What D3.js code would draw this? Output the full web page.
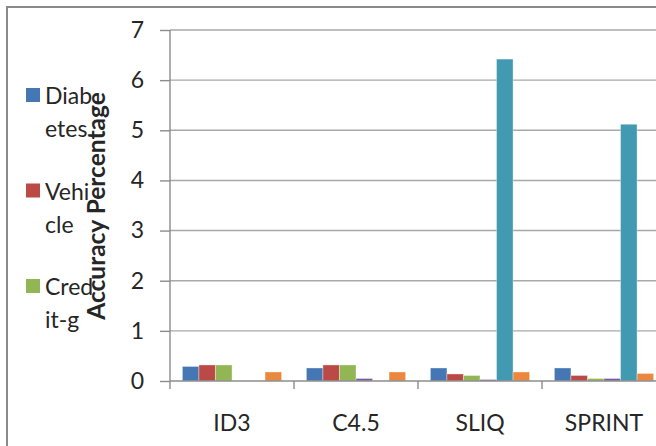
<!DOCTYPE html>
<html>
<head>
<meta charset="utf-8">
<script src="https://cdn.jsdelivr.net/npm/d3@7"></script>
<style>
  html, body { margin: 0; padding: 0; background: #fff; }
  svg { display: block; }
  text { font-family: Lato, "Liberation Sans", Arial, sans-serif; fill: #262626; }
</style>
</head>
<body>
<svg id="chart" width="656" height="446"></svg>
<script>
// Classifier accuracy comparison (clustered columns)
const categories = ["ID3", "C4.5", "SLIQ", "SPRINT"];
const legendNames = ["Diabetes", "Vehicle", "Credit-g"];
const yTicks = [0, 1, 2, 3, 4, 5, 6, 7];

// one array per series, values per category
const series1 = [0.29, 0.26, 0.26, 0.26];
const series2 = [0.32, 0.32, 0.14, 0.11];
const series3 = [0.32, 0.32, 0.11, 0.05];
const series4 = [null, 0.05, 0.03, 0.05];
const series5 = [null, null, 6.42, 5.12];
const series6 = [0.18, 0.18, 0.18, 0.15];
const seriesValues = [series1, series2, series3, series4, series5, series6];
const colors = ["#4677B5", "#BB4A47", "#93B655", "#7A5C9E", "#4299B2", "#EB883F"];

const FONT = 'Lato, "Liberation Sans", Arial, sans-serif';
const svg = d3.select("#chart");

// outer frame (only top and left edges fall inside the view)
svg.append("path")
  .attr("d", "M7,446 V7 H656")
  .attr("fill", "none")
  .attr("stroke", "#8a8a8a")
  .attr("stroke-width", 2);

const plotLeft = 170, plotTop = 30, plotBottom = 381, bandW = 124;

const x = d3.scaleBand()
  .domain(categories)
  .range([plotLeft, plotLeft + bandW * categories.length])
  .paddingInner(0).paddingOuter(0);

const xs = d3.scaleBand()
  .domain(d3.range(seriesValues.length))
  .range([0, x.bandwidth()])
  .paddingInner(0).paddingOuter(0.75);

const y = d3.scaleLinear().domain([0, 7]).range([plotBottom, plotTop]);

// horizontal gridlines
svg.append("g")
  .selectAll("line")
  .data(yTicks.filter(d => d > 0))
  .join("line")
  .attr("x1", plotLeft).attr("x2", 656)
  .attr("y1", d => y(d)).attr("y2", d => y(d))
  .attr("stroke", "#a8a8a8")
  .attr("stroke-width", 1.4);

// y axis
const yAxis = svg.append("g")
  .attr("transform", `translate(${plotLeft},0)`)
  .call(d3.axisLeft(y).tickValues(yTicks).tickFormat(d3.format("d"))
    .tickSize(10).tickPadding(16).tickSizeOuter(0));
yAxis.select(".domain").remove();
yAxis.selectAll(".tick line").attr("stroke", "#8c8c8c").attr("stroke-width", 1.4);
yAxis.selectAll(".tick text")
  .attr("font-size", 23)
  .style("font-family", FONT)
  .attr("fill", "#262626");
yAxis.append("line")
  .attr("x1", 0).attr("x2", 0)
  .attr("y1", plotTop).attr("y2", plotBottom + 8)
  .attr("stroke", "#8c8c8c").attr("stroke-width", 1.4);

// bars
const groups = svg.append("g")
  .selectAll("g")
  .data(seriesValues)
  .join("g")
  .attr("fill", (d, i) => colors[i]);

groups.selectAll("rect")
  .data((vals, si) => vals.map((v, ci) => ({ v, si, ci })).filter(d => d.v != null))
  .join("rect")
  .attr("x", d => x(categories[d.ci]) + xs(d.si))
  .attr("width", xs.bandwidth())
  .attr("y", d => y(d.v))
  .attr("height", d => y(0) - y(d.v))
  .attr("stroke", "rgba(255,255,255,0.35)")
  .attr("stroke-width", 1);

// x axis
const xAxis = svg.append("g")
  .attr("transform", `translate(0,${plotBottom})`);
xAxis.append("line")
  .attr("x1", plotLeft).attr("x2", 656)
  .attr("y1", 0).attr("y2", 0)
  .attr("stroke", "#8c8c8c").attr("stroke-width", 1.4);
xAxis.selectAll("line.cat")
  .data(categories.slice(1))
  .join("line")
  .attr("class", "cat")
  .attr("x1", d => x(d)).attr("x2", d => x(d))
  .attr("y1", 0).attr("y2", 8)
  .attr("stroke", "#8c8c8c").attr("stroke-width", 1.4);
xAxis.selectAll("text")
  .data(categories)
  .join("text")
  .attr("x", d => x(d) + x.bandwidth() / 2)
  .attr("y", 50)
  .attr("text-anchor", "middle")
  .attr("font-size", 23)
  .text(d => d);

// legend (labels wrap every four characters)
const legend = svg.append("g");
legendNames.forEach((name, i) => {
  const top = 88 + i * 95.5;
  legend.append("rect")
    .attr("x", 26).attr("y", top)
    .attr("width", 14).attr("height", 14)
    .attr("fill", colors[i]);
  const lines = name.match(/.{1,4}/g);
  lines.forEach((ln, j) => {
    legend.append("text")
      .attr("x", 45).attr("y", top + 16 + j * 33)
      .attr("font-size", 23)
      .attr("fill", "#333")
      .text(ln);
  });
});

// y axis title
svg.append("text")
  .attr("transform", "translate(105,206) rotate(-90)")
  .attr("text-anchor", "middle")
  .attr("font-size", 24.5)
  .attr("font-weight", "bold")
  .attr("fill", "#111")
  .text("Accuracy Percentage");
</script>
</body>
</html>
